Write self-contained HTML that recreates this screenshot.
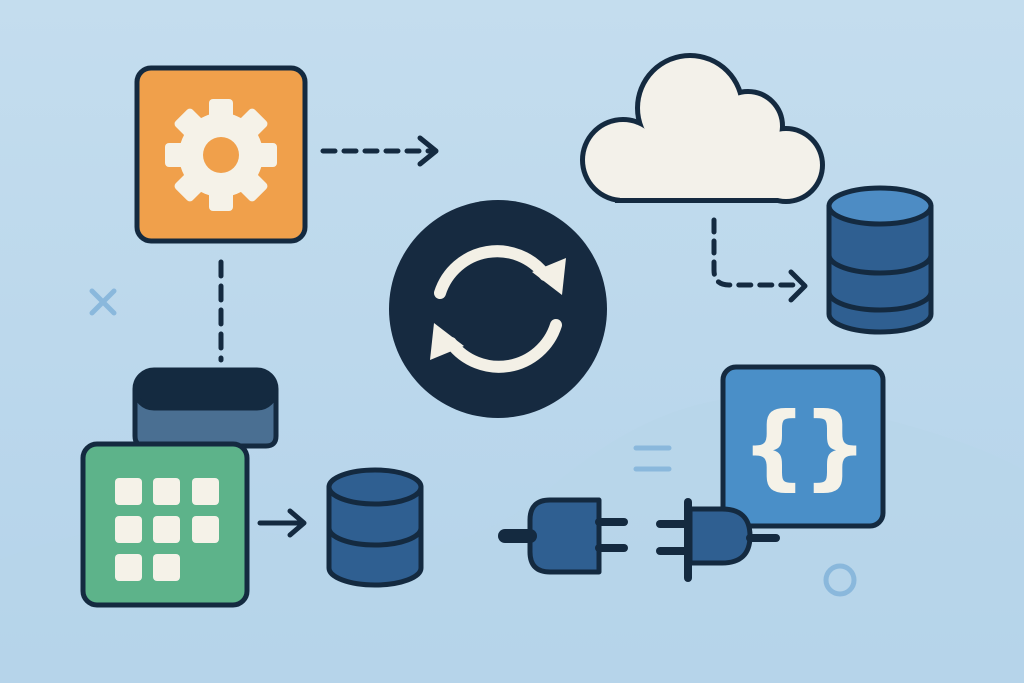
<!DOCTYPE html>
<html><head><meta charset="utf-8"><style>html,body{margin:0;padding:0;width:1024px;height:683px;overflow:hidden}</style></head><body>
<svg width="1024" height="683" viewBox="0 0 1024 683" xmlns="http://www.w3.org/2000/svg">
<defs><linearGradient id="bg" x1="0" y1="0" x2="0" y2="1"><stop offset="0" stop-color="#c4ddee"/><stop offset="1" stop-color="#b4d3ea"/></linearGradient></defs>
<rect width="1024" height="683" fill="url(#bg)"/>
<path d="M0 560 Q150 500 300 540 Q450 580 560 480 Q680 380 800 400 Q950 430 1024 470 L1024 683 L0 683Z" fill="#b8d5ea" opacity="0.6"/>
<g stroke="#142a40" stroke-width="5" stroke-linecap="round" stroke-linejoin="round" fill="none">
<rect x="137" y="68" width="168" height="173" rx="14" fill="#f0a04b"/>
<line x1="323" y1="151" x2="430" y2="151" stroke-dasharray="12 9"/>
<polyline points="420,138 436,151 420,164"/>
<line x1="221" y1="262" x2="221" y2="360" stroke-dasharray="14 10"/>
<path d="M135 390 L135 436 Q135 446 145 446 L266 446 Q276 446 276 436 L276 390" fill="#4a6f92"/>
<rect x="135" y="370" width="141" height="38" rx="19" fill="#142a40"/>
<rect x="83" y="444" width="164" height="161" rx="14" fill="#5db38a"/>
<line x1="260" y1="523" x2="303" y2="523"/>
<polyline points="290,511 304,523 290,535"/>
<path d="M329 487 L329 568 A46 17 0 0 0 421 568 L421 487" fill="#2f5f91"/>
<ellipse cx="375" cy="487" rx="46" ry="17" fill="#2f5f91"/>
<path d="M329 528 A46 17 0 0 0 421 528"/>
<circle cx="498" cy="309" r="109" fill="#162a40" stroke="none"/>
<path d="M714 220 L714 270 Q714 285 729 285 L795 285" stroke-dasharray="12 9"/>
<polyline points="791,272 805,286 791,300"/>
<path d="M829 206 L829 314 A51 18 0 0 0 931 314 L931 206" fill="#2f5f91"/>
<ellipse cx="880" cy="206" rx="51" ry="18" fill="#4d8cc4"/>
<path d="M829 255 A51 18 0 0 0 931 255"/>
<path d="M829 292 A51 18 0 0 0 931 292"/>
<rect x="723" y="367" width="160" height="159" rx="13" fill="#4a8fc8"/>
<path d="M599 500 L550 500 Q530 500 530 520 L530 552 Q530 572 550 572 L599 572Z" fill="#2f5f91"/>
<line x1="505" y1="536" x2="530" y2="536" stroke-width="14"/>
<line x1="599" y1="522" x2="624" y2="522" stroke-width="8"/>
<line x1="599" y1="548" x2="624" y2="548" stroke-width="8"/>
<path d="M690 509 L722 509 Q750 509 750 536 Q750 563 722 563 L690 563Z" fill="#2f5f91"/>
<line x1="688" y1="502" x2="688" y2="578" stroke-width="8"/>
<line x1="660" y1="524" x2="686" y2="524" stroke-width="8"/>
<line x1="660" y1="551" x2="686" y2="551" stroke-width="8"/>
<line x1="750" y1="538" x2="776" y2="538" stroke-width="8"/>
</g>
<g transform="translate(221,155)" fill="#f5f2e8">
<g id="t"><rect x="-12" y="-56" width="24" height="24" rx="4"/></g>
<use href="#t" transform="rotate(45)"/><use href="#t" transform="rotate(90)"/><use href="#t" transform="rotate(135)"/><use href="#t" transform="rotate(180)"/><use href="#t" transform="rotate(225)"/><use href="#t" transform="rotate(270)"/><use href="#t" transform="rotate(315)"/>
<circle r="42"/>
<circle r="18" fill="#f0a04b"/>
</g>
<g fill="#f5f2e8">
<rect x="115" y="478" width="27" height="27" rx="4"/><rect x="153" y="478" width="27" height="27" rx="4"/><rect x="192" y="478" width="27" height="27" rx="4"/>
<rect x="115" y="516" width="27" height="27" rx="4"/><rect x="153" y="516" width="27" height="27" rx="4"/><rect x="192" y="516" width="27" height="27" rx="4"/>
<rect x="115" y="554" width="27" height="27" rx="4"/><rect x="153" y="554" width="27" height="27" rx="4"/>
</g>
<g fill="none" stroke="#f3f0e6" stroke-width="12" stroke-linecap="round">
<path d="M440 293 A60 60 0 0 1 545 275"/>
<path d="M556 325 A60 60 0 0 1 451 343"/>
</g>
<polygon points="562,295 566,258 532,272" fill="#f3f0e6"/>
<polygon points="434,323 430,360 464,346" fill="#f3f0e6"/>
<g stroke="#142a40" stroke-width="10">
<circle cx="623" cy="160" r="38"/><circle cx="690" cy="108" r="50"/><circle cx="748" cy="126" r="32"/><circle cx="786" cy="165" r="34"/><rect x="620" y="162" width="170" height="36"/>
</g>
<g fill="#f3f1ea">
<circle cx="623" cy="160" r="38"/><circle cx="690" cy="108" r="50"/><circle cx="748" cy="126" r="32"/><circle cx="786" cy="165" r="34"/><rect x="620" y="140" width="168" height="58"/><rect x="650" y="110" width="110" height="88"/>
</g>
<g font-family="DejaVu Sans, sans-serif" font-weight="bold" font-size="92" fill="#f5f2e8" text-anchor="middle">
<text x="774" y="478">{</text><text x="835" y="478">}</text>
</g>
<g stroke="#8ab8dc" stroke-width="5" stroke-linecap="round" fill="none">
<line x1="92" y1="291" x2="114" y2="313"/><line x1="114" y1="291" x2="92" y2="313"/>
<line x1="636" y1="448" x2="669" y2="448"/><line x1="636" y1="469" x2="669" y2="469"/>
<circle cx="840" cy="580" r="14"/>
</g>
</svg>
</body></html>
